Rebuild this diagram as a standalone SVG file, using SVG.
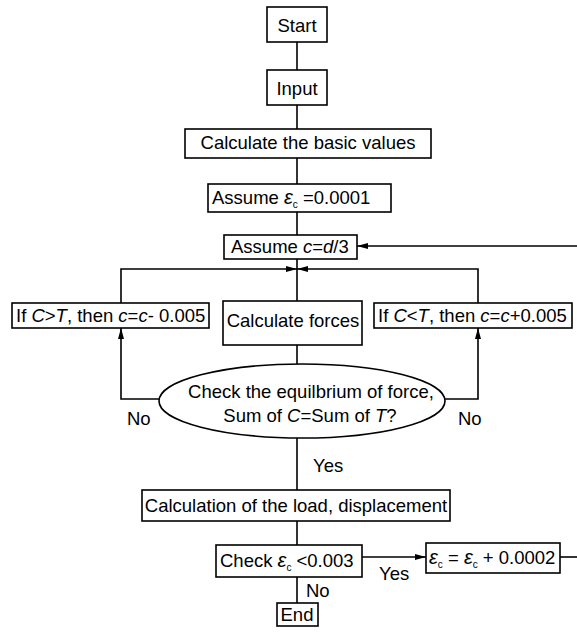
<svg xmlns="http://www.w3.org/2000/svg" width="577" height="632" viewBox="0 0 577 632">
<style>
text{font-family:"Liberation Sans",Arial,sans-serif;font-size:18.5px;fill:#000}
.c{text-anchor:middle}
.i{font-style:italic}
.e{font-style:italic;font-size:20px}
.s{font-size:10px}
rect,ellipse{fill:#fff;stroke:#000;stroke-width:1.6}
.ln{fill:none;stroke:#000;stroke-width:1.6}
</style>
<defs>
<marker id="ah" viewBox="0 0 11 6" refX="11" refY="3" markerWidth="11" markerHeight="6" markerUnits="userSpaceOnUse" orient="auto">
<path d="M0,0 L11,3 L0,6 Z" fill="#000"/>
</marker>
</defs>
<g id="connectors">
<line class="ln" x1="297" y1="42" x2="297" y2="70"/>
<line class="ln" x1="297" y1="105" x2="297" y2="129"/>
<line class="ln" x1="297" y1="158" x2="297" y2="184"/>
<line class="ln" x1="297" y1="212" x2="297" y2="235"/>
<line class="ln" x1="297" y1="259" x2="297" y2="301"/>
<line class="ln" x1="297" y1="345" x2="297" y2="364"/>
<line class="ln" x1="577" y1="246" x2="357" y2="246" marker-end="url(#ah)"/>
<polyline class="ln" points="121,303 121,269 297,269" marker-end="url(#ah)"/>
<polyline class="ln" points="478,303 478,269 297,269" marker-end="url(#ah)"/>
<polyline class="ln" points="159,399 121,399 121,328" marker-end="url(#ah)"/>
<polyline class="ln" points="445,399 478,399 478,328" marker-end="url(#ah)"/>
<line class="ln" x1="297" y1="438" x2="297" y2="490"/>
<line class="ln" x1="297" y1="521" x2="297" y2="545"/>
<line class="ln" x1="362" y1="557" x2="426" y2="557" marker-end="url(#ah)"/>
<line class="ln" x1="560" y1="557" x2="577" y2="557"/>
<line class="ln" x1="297" y1="577" x2="297" y2="603"/>
<text x="127" y="425">No</text>
<text x="458" y="425">No</text>
<text x="313" y="472">Yes</text>
<text x="379" y="580">Yes</text>
<text x="306" y="597">No</text>
</g>
<g id="start"><rect x="267" y="7" width="60" height="35"/><text class="c" x="297" y="32">Start</text></g>
<g id="input"><rect x="267" y="70" width="60" height="35"/><text class="c" x="297" y="95">Input</text></g>
<g id="basic"><rect x="185" y="129" width="246" height="29"/><text class="c" x="308" y="149">Calculate the basic values</text></g>
<g id="assume-eps"><rect x="208" y="184" width="183" height="28"/><text x="212" y="204">Assume <tspan class="e">ε</tspan><tspan class="s" dy="4">c</tspan><tspan dy="-4"> =0.0001</tspan></text></g>
<g id="assume-c"><rect x="224" y="235" width="133" height="24"/><text x="231" y="253">Assume <tspan class="i">c</tspan>=<tspan class="i">d</tspan>/3</text></g>
<g id="left-box"><rect x="12" y="303" width="197" height="25"/><text x="16" y="322">If <tspan class="i">C</tspan>&gt;<tspan class="i">T</tspan>, then <tspan class="i">c</tspan>=<tspan class="i">c</tspan>- 0.005</text></g>
<g id="forces"><rect x="223" y="301" width="139" height="44"/><text class="c" x="293" y="327">Calculate forces</text></g>
<g id="right-box"><rect x="374" y="303" width="198" height="25"/><text x="378" y="322">If <tspan class="i">C</tspan>&lt;<tspan class="i">T</tspan>, then <tspan class="i">c</tspan>=<tspan class="i">c</tspan>+0.005</text></g>
<g id="check-eq"><ellipse cx="302" cy="401" rx="143" ry="37"/><text class="c" x="311" y="398">Check the equilbrium of force,</text><text class="c" x="310" y="422">Sum of <tspan class="i">C</tspan>=Sum of <tspan class="i">T</tspan>?</text></g>
<g id="load"><rect x="142" y="490" width="308" height="31"/><text class="c" x="296" y="512">Calculation of the load, displacement</text></g>
<g id="check-eps"><rect x="216" y="545" width="146" height="32"/><text x="220" y="567">Check <tspan class="e">ε</tspan><tspan class="s" dy="4">c</tspan><tspan dy="-4"> &lt;0.003</tspan></text></g>
<g id="inc-eps"><rect x="426" y="543" width="134" height="30"/><text x="429" y="564"><tspan class="e">ε</tspan><tspan class="s" dy="4">c</tspan><tspan dy="-4"> = </tspan><tspan class="e">ε</tspan><tspan class="s" dy="4">c</tspan><tspan dy="-4"> + 0.0002</tspan></text></g>
<g id="end"><rect x="277" y="603" width="41" height="23"/><text class="c" x="297" y="621">End</text></g>
</svg>
